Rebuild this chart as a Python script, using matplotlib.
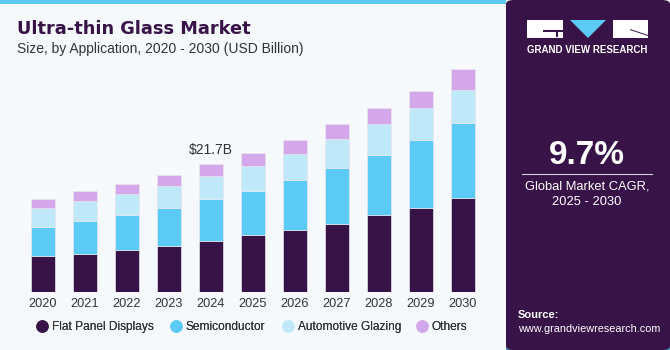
import numpy as np
import matplotlib
matplotlib.use("Agg")
from matplotlib import pyplot as plt
from matplotlib.patches import Rectangle, FancyBboxPatch, Polygon
from matplotlib.colors import LinearSegmentedColormap

years = ["2020", "2021", "2022", "2023", "2024", "2025", "2026", "2027", "2028", "2029", "2030"]
flat_panel = [6.07, 6.46, 7.19, 7.76, 8.67, 9.63, 10.59, 11.60, 13.08, 14.32, 15.97]
semiconductor = [4.93, 5.66, 5.95, 6.56, 7.08, 7.58, 8.44, 9.51, 10.14, 11.45, 12.74]
automotive = [3.28, 3.40, 3.47, 3.74, 3.96, 4.25, 4.42, 4.87, 5.27, 5.49, 5.61]
others = [1.48, 1.58, 1.75, 1.82, 1.99, 2.21, 2.43, 2.50, 2.72, 2.89, 3.52]
series_names = ["Flat Panel Displays", "Semiconductor", "Automotive Glazing", "Others"]
colors = ["#371347", "#5bcbf5", "#bfe9f9", "#d4a6ea"]

plt.rcParams['font.family'] = ['Liberation Sans', 'DejaVu Sans']

W, H = 670, 350


def fx(px):
    return px / W


def fy(py):
    return 1 - py / H


fig = plt.figure(figsize=(6.7, 3.5), dpi=100)
fig.patch.set_facecolor("#f5f9fc")

# top stripe on the white area
fig.patches.append(Rectangle((0, 1 - 4 / H), 506 / W, 4 / H, transform=fig.transFigure,
                             facecolor="#5bc8f0", edgecolor="none", zorder=0))

# right panel
panel_x = 506 / W
panel = FancyBboxPatch((panel_x, 0), 1 - panel_x, 1, boxstyle="round,pad=0,rounding_size=0.012",
                       transform=fig.transFigure, facecolor="#371347", edgecolor="none", zorder=0)
fig.patches.append(panel)

# gradient at the bottom of the panel
gax = fig.add_axes([panel_x, 0, 1 - panel_x, 72 / H])
grad = np.linspace(0, 1, 100)[:, None]
cmap = LinearSegmentedColormap.from_list("g", ["#4a8fc0", "#3a3f7a", "#371347"])
gax.imshow(grad, aspect="auto", cmap=cmap, origin="lower", extent=[0, 1, 0, 1])
for k in np.linspace(0, 1, 14):
    gax.plot([k, 0.5 + (k - 0.5) * 0.6], [0, 0.75], color="white", alpha=0.12, lw=0.5)
for k in np.linspace(0.05, 0.7, 8):
    gax.plot([0, 1], [k, k], color="white", alpha=0.1, lw=0.5)
gax.set_xlim(0, 1)
gax.set_ylim(0, 1)
gax.axis("off")

# bar chart axes
ax = fig.add_axes([22 / W, 58 / H, 462 / W, 235.4 / H])
ax.set_facecolor("none")
x = np.arange(len(years))
bottom = np.zeros(len(years))
for vals, col, name in zip([flat_panel, semiconductor, automotive, others], colors, series_names):
    ax.bar(x, vals, width=0.57, bottom=bottom, color=col, edgecolor="#e8e4ef",
           linewidth=0.5, label=name)
    bottom += np.array(vals)

ax.set_xlim(-0.5, len(years) - 0.5)
ax.set_ylim(0, 40)
ax.set_xticks(x)
ax.set_xticklabels(years, fontsize=9.2, color="#333333")
ax.tick_params(axis="x", length=0, pad=4)
ax.set_yticks([])
for s in ax.spines.values():
    s.set_visible(False)

total_2024 = bottom[4]
ax.text(4, total_2024 + 1.3, "$%.1fB" % total_2024, ha="center", va="bottom",
        fontsize=10, color="#333333")

# legend: one entry per legend, placed at the reference marker positions
marker_px = [43, 177, 289, 423]
for name, col, mx in zip(series_names, colors, marker_px):
    h = plt.Line2D([], [], marker="o", ls="none", markersize=9, markerfacecolor=col,
                   markeredgecolor="none")
    lg = fig.legend([h], [name], loc="center left", bbox_to_anchor=(fx(mx - 6), fy(327)),
                    frameon=False, fontsize=8.6, handlelength=0.8, handletextpad=0.45,
                    labelcolor="#333333", borderaxespad=0, borderpad=0)
    fig.add_artist(lg)

# titles
fig.text(17 / W, 1 - 29 / H, "Ultra-thin Glass Market", fontsize=12.8, fontweight="bold",
         color="#371347", va="center", family="DejaVu Sans")
fig.text(17 / W, 1 - 49 / H, "Size, by Application, 2020 - 2030 (USD Billion)", fontsize=10,
         color="#333333", va="center")

# logo
fig.patches.append(Rectangle((fx(527), fy(38)), 36 / W, 18 / H, transform=fig.transFigure,
                             facecolor="white", edgecolor="none"))
fig.patches.append(Rectangle((fx(543), fy(32)), 20 / W, 1.5 / H, transform=fig.transFigure,
                             facecolor="#371347", edgecolor="none"))
fig.patches.append(Rectangle((fx(556), fy(37)), 1.5 / W, 5 / H, transform=fig.transFigure,
                             facecolor="#371347", edgecolor="none"))
fig.patches.append(Polygon([(fx(570), fy(20)), (fx(606), fy(20)), (fx(588), fy(38))],
                           closed=True, transform=fig.transFigure, facecolor="#5bcbf5",
                           edgecolor="none"))
fig.patches.append(Rectangle((fx(613), fy(38)), 35 / W, 18 / H, transform=fig.transFigure,
                             facecolor="white", edgecolor="none"))
fig.patches.append(Polygon([(fx(630), fy(29)), (fx(648), fy(35)), (fx(648), fy(36)), (fx(630), fy(30))],
                           closed=True, transform=fig.transFigure, facecolor="#371347",
                           edgecolor="none"))
fig.text(fx(587), fy(50), "GRAND VIEW RESEARCH", fontsize=7, fontweight="bold",
         color="white", ha="center", va="center")

fig.text(fx(587), fy(155), "9.7%", fontsize=24, fontweight="bold", color="white",
         ha="center", va="center")
fig.lines.append(plt.Line2D([fx(522), fx(652)], [fy(173.5), fy(173.5)], transform=fig.transFigure,
                            color="white", lw=0.8, alpha=0.8))
fig.text(fx(587), fy(186), "Global Market CAGR,", fontsize=9.3, color="white",
         ha="center", va="center")
fig.text(fx(587), fy(202), "2025 - 2030", fontsize=9.3, color="white",
         ha="center", va="center")

fig.text(fx(518), fy(315), "Source:", fontsize=8, fontweight="bold", color="white",
         ha="left", va="center")
fig.text(fx(518), fy(329), "www.grandviewresearch.com", fontsize=7.8, color="white",
         ha="left", va="center")

fig.savefig("out.png", dpi=100, facecolor=fig.get_facecolor())
